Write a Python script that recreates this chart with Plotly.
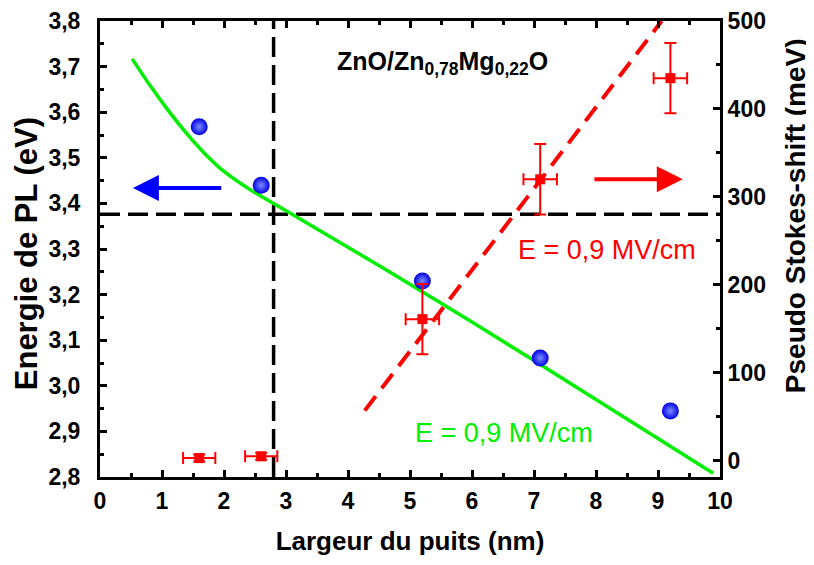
import plotly.graph_objects as go

# ---- data ----
well_width = [1.6, 2.6, 5.2, 7.1, 9.2]                 # nm
pl_energy = [3.568, 3.440, 3.230, 3.061, 2.945]         # eV (left axis)

fit_x = [0.52, 0.80, 1.10, 1.40, 1.70, 2.00, 2.40, 2.80, 3.20, 4.00, 4.68, 6.00, 8.00, 9.89]
fit_e = [3.717, 3.660, 3.604, 3.553, 3.508, 3.470, 3.432, 3.400, 3.368, 3.304, 3.249, 3.140, 2.970, 2.808]

shift_x = [1.6, 2.6, 5.2, 7.1, 9.2]
shift_val = [3, 5, 161, 320, 435]                       # meV (right axis)
shift_yerr = [4, 4, 40, 40, 40]
shift_xerr = [0.26, 0.26, 0.27, 0.27, 0.27]

lin_x = [4.27, 9.06]
lin_val = [57, 500]

ref_x = 2.8       # vertical dashed line (nm)
ref_e = 3.376     # horizontal dashed line (eV)

FONT = "Liberation Sans, Arial, sans-serif"

fig = go.Figure()

fig.add_trace(go.Scatter(x=fit_x, y=fit_e, mode="lines", line=dict(color="#00ee00", width=3.5, shape="spline", smoothing=0.8),
                         hoverinfo="skip", showlegend=False))
fig.add_trace(go.Scatter(x=lin_x, y=lin_val, yaxis="y2", mode="lines",
                         line=dict(color="#ff0000", width=4, dash="18px,10px"), showlegend=False))
fig.add_trace(go.Scatter(x=shift_x, y=shift_val, yaxis="y2", mode="markers",
                         marker=dict(symbol="square", size=10, color="#ff0000"),
                         error_y=dict(type="data", array=shift_yerr, color="#ff0000", thickness=2, width=6),
                         error_x=dict(type="data", array=shift_xerr, color="#ff0000", thickness=2, width=6),
                         showlegend=False))
fig.add_trace(go.Scatter(x=well_width, y=pl_energy, mode="markers",
                         marker=dict(size=17, color="#0000e6", line=dict(width=0),
                                     gradient=dict(type="radial", color="#7d8cff")),
                         showlegend=False))

dash_line = dict(color="black", width=3.5, dash="20px,8px")
fig.add_shape(type="line", xref="x", yref="paper", x0=ref_x, x1=ref_x, y0=0, y1=1, line=dash_line, layer="below")
fig.add_shape(type="line", xref="paper", yref="y", x0=0, x1=1, y0=ref_e, y1=ref_e, line=dash_line, layer="below")

fig.add_annotation(x=3.79, y=3.708, xref="x", yref="y", xanchor="left", yanchor="middle", showarrow=False,
                   text="<b>ZnO/Zn<sub>0,78</sub>Mg<sub>0,22</sub>O</b>",
                   font=dict(family=FONT, size=25, color="black"))
fig.add_annotation(x=8.18, y=3.298, xref="x", yref="y", showarrow=False, text="E = 0,9 MV/cm",
                   xanchor="center", yanchor="middle",
                   font=dict(family=FONT, size=27, color="#ff0000"))
fig.add_annotation(x=6.52, y=2.896, xref="x", yref="y", showarrow=False, text="E = 0,9 MV/cm",
                   xanchor="center", yanchor="middle",
                   font=dict(family=FONT, size=27, color="#00ee00"))

# axis titles of the two y axes (placed as in the reference)
fig.add_annotation(x=-0.119, y=0.489, xref="paper", yref="paper", showarrow=False, textangle=-90,
                   xanchor="center", yanchor="middle",
                   text="<b>Energie de PL (eV)</b>", font=dict(family=FONT, size=31, color="black"))
fig.add_annotation(x=1.121, y=0.572, xref="paper", yref="paper", showarrow=False, textangle=-90,
                   xanchor="center", yanchor="middle",
                   text="<b>Pseudo Stokes-shift (meV)</b>", font=dict(family=FONT, size=28, color="black"))

# arrows
fig.add_annotation(x=0.53, y=3.434, ax=1.98, ay=3.434, xref="x", yref="y", axref="x", ayref="y",
                   text="", showarrow=True, arrowhead=2, arrowsize=1.3, arrowwidth=4, arrowcolor="#0000ff")
fig.add_annotation(x=9.40, y=320, ax=7.95, ay=320, xref="x", yref="y2", axref="x", ayref="y2",
                   text="", showarrow=True, arrowhead=2, arrowsize=1.3, arrowwidth=4, arrowcolor="#ff0000")

tickfont = dict(family=FONT, size=23, color="black", weight="bold")
xtitlefont = dict(family=FONT, size=26, color="black", weight="bold")

fig.update_layout(
    width=806, height=557,
    margin=dict(l=92, r=94, t=13, b=88, pad=0, autoexpand=False),
    plot_bgcolor="white", paper_bgcolor="white",
    separators=", ",
    xaxis=dict(range=[0, 10], tick0=0, dtick=1, ticks="inside", ticklen=7, tickwidth=2.5, tickcolor="black",
               minor=dict(dtick=0.5, ticks="inside", ticklen=4, tickwidth=2.5, tickcolor="black"),
               showline=True, linewidth=3, linecolor="black", mirror="ticks", automargin=False,
               showgrid=False, zeroline=False, tickfont=tickfont, ticklabelstandoff=1,
               title=dict(text="Largeur du puits (nm)", font=xtitlefont, standoff=20)),
    yaxis=dict(range=[2.8, 3.8], tick0=2.8, dtick=0.1, tickformat=".1f", ticks="inside", ticklen=7,
               tickwidth=2.5, tickcolor="black", automargin=False,
               minor=dict(dtick=0.05, ticks="inside", ticklen=4, tickwidth=2.5, tickcolor="black"),
               showline=True, linewidth=3, linecolor="black", showgrid=False, zeroline=False,
               tickfont=tickfont, ticklabelstandoff=12),
    yaxis2=dict(range=[-18.5, 500], tick0=0, dtick=100, overlaying="y", side="right", ticks="inside",
                ticklen=7, tickwidth=2.5, tickcolor="black", automargin=False,
                minor=dict(dtick=50, ticks="inside", ticklen=4, tickwidth=2.5, tickcolor="black"),
                showline=True, linewidth=3, linecolor="black", showgrid=False, zeroline=False,
                tickfont=tickfont, ticklabelstandoff=0),
)

fig.write_html("out.html")
